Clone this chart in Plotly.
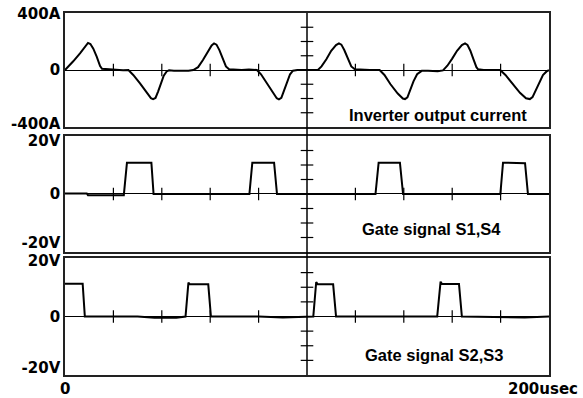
import plotly.graph_objects as go

# ---------------- data ----------------
# Inverter output current [A] vs time [usec]
cur_t = [0, 1.5, 3.4, 6.2, 8.3, 9.5, 10.5, 11.7, 13.1, 14.5, 15.3, 17, 19, 22, 24, 26.2,
         28.2, 31, 33.7, 35.5, 36.4, 37.4, 38.5, 39.6, 40.8, 42, 43, 45, 48, 51, 53,
         55, 57, 59, 60.6, 61.6, 62.6, 63.8, 65.2, 66.5, 67.8, 70, 73, 76, 78, 79.3,
         81, 83.5, 86, 87.5, 88.4, 89.4, 90.5, 91.7, 93, 94.2, 96, 100, 104.5,
         106, 108, 110, 112, 113.2, 114.2, 115.4, 116.8, 118.3, 119.8, 122, 126, 130,
         132, 134.5, 137.5, 139.6, 140.5, 141.5, 142.7, 144, 145.5, 147.4, 150, 154, 156.2,
         158, 160, 162, 164, 165.3, 166.3, 167.5, 168.8, 170, 170.7, 173, 176, 179.8,
         182, 185, 188, 190.5, 192.1, 193.2, 194.5, 196, 197.5, 199, 200]
cur_v = [0, 25, 61, 117, 168, 190, 182, 150, 94, 28, 8, 6, 0, 0, -2, 0,
         -35, -94, -160, -198, -204, -196, -150, -95, -40, -10, -2, -5, -6, -5, 0,
         20, 70, 130, 172, 187, 178, 140, 80, 25, 5, 2, 0, 3, 0, 0,
         -30, -95, -160, -198, -206, -195, -145, -85, -30, -5, 0, 0, 0,
         25, 75, 135, 175, 187, 178, 140, 80, 25, 5, 2, 0, 0,
         -35, -100, -165, -200, -204, -192, -140, -80, -30, -6, -6, -8, -3,
         30, 80, 135, 175, 187, 176, 135, 75, 20, 5, 0, 0, 0,
         -35, -100, -160, -198, -204, -190, -140, -80, -35, -10, 0]

# Gate signal S1,S4 [V]
g14_t = [0, 9, 9.5, 24.3, 25.6, 35.7, 36.6, 60, 76.2, 77.4, 86.4, 87.6, 100,
         128.3, 129.6, 138.4, 139.7, 160, 179.9, 181.0, 190.1, 191.3, 200]
g14_v = [0.2, 0.2, -0.4, -0.4, 10.8, 10.8, 0, 0, 0, 10.8, 10.8, 0, 0,
         0, 10.8, 10.8, 0, 0, 0, 10.8, 10.6, 0, 0]

# Gate signal S2,S3 [V]
g23_t = [0, 7.3, 8.2, 30, 37, 46, 49.8, 51.0, 51.6, 59.2, 60.3, 80, 90, 102.6, 103.8, 104.4,
         110.8, 112.0, 130, 153.8, 155.2, 155.8, 162.8, 164.0, 190, 200]
g23_v = [11.2, 11.2, 0, 0, -0.4, -0.4, 0, 11.6, 11.0, 11.0, 0, 0, -0.3, 0, 11.8, 11.0,
         11.0, 0, 0, 0, 11.9, 11.1, 11.1, 0, -0.3, 0]

x_ticks = [20, 40, 60, 80, 120, 140, 160, 180]
cur_ticks = [-300, -200, -100, 100, 200, 300]
volt_ticks = [-15, -10, -5, 5, 10, 15]

cur_labels = ["-400A", "0", "400A"]
volt_labels = ["-20V", "0", "20V"]
x_labels = ["0", "200usec"]

cur_range = [-400, 400]
volt_range = [-20, 20]
x_range = [0, 200]

# ---------------- figure ----------------
fig = go.Figure()

panels = [
    ("x", "y", cur_t, cur_v, cur_ticks),
    ("x2", "y2", g14_t, g14_v, volt_ticks),
    ("x3", "y3", g23_t, g23_v, volt_ticks),
]
for xa, ya, tt, vv, yt in panels:
    fig.add_trace(go.Scatter(x=tt, y=vv, mode="lines", xaxis=xa, yaxis=ya,
                             line=dict(color="black", width=2), hoverinfo="skip",
                             showlegend=False))
    # tick crosses on the zero line
    fig.add_trace(go.Scatter(x=x_ticks, y=[0] * len(x_ticks), mode="markers",
                             xaxis=xa, yaxis=ya, showlegend=False, hoverinfo="skip",
                             marker=dict(symbol="line-ns", size=9,
                                         line=dict(color="black", width=1.2))))
    # tick crosses on the centre line
    fig.add_trace(go.Scatter(x=[100] * len(yt), y=yt, mode="markers",
                             xaxis=xa, yaxis=ya, showlegend=False, hoverinfo="skip",
                             marker=dict(symbol="line-ew", size=9,
                                         line=dict(color="black", width=1.2))))

tick_font = dict(family="DejaVu Sans", size=15, color="black", weight="bold")
frame = dict(showline=True, mirror=True, linecolor="#222", linewidth=1.5,
             showgrid=False, fixedrange=True)
xcommon = dict(range=x_range, zeroline=False, ticks="", showticklabels=False, **frame)
ycommon = dict(zeroline=True, zerolinecolor="black", zerolinewidth=1, ticks="",
               tickfont=tick_font, **frame)

fig.update_layout(
    width=583, height=398,
    margin=dict(l=65, r=34, t=13, b=23, autoexpand=False),
    paper_bgcolor="white", plot_bgcolor="white",
    font=dict(family="Liberation Sans", size=16, color="black"),
    xaxis=dict(anchor="y", **xcommon),
    xaxis2=dict(anchor="y2", **xcommon),
    xaxis3=dict(anchor="y3", **xcommon),
    # edge labels sit slightly inside the frame, as in the original
    yaxis=dict(domain=[0.6851, 1.0], anchor="x", range=cur_range,
               tickvals=[-380, 0, 393], ticktext=cur_labels, **ycommon),
    yaxis2=dict(domain=[0.3398, 0.6602], anchor="x2", range=volt_range,
                tickvals=[-16.9, 0, 18.2], ticktext=volt_labels, **ycommon),
    yaxis3=dict(domain=[0.0, 0.3232], anchor="x3", range=volt_range,
                tickvals=[-17.6, 0, 19.0], ticktext=volt_labels, **ycommon),
)

# centre vertical line through all panels
fig.add_shape(type="line", xref="x", yref="paper", x0=100, x1=100, y0=0, y1=1,
              line=dict(color="black", width=1.5))

# time-axis labels
fig.add_annotation(x=x_range[0], y=0, xref="x3", yref="paper", yanchor="top", yshift=-3,
                   text=x_labels[0], showarrow=False, font=tick_font)
fig.add_annotation(x=x_range[1], y=0, xref="x3", yref="paper", yanchor="top", yshift=-3,
                   xanchor="right", xshift=31,
                   text=x_labels[1], showarrow=False, font=tick_font)

ann_font = dict(family="Liberation Sans", size=16.5, color="black", weight="bold")
fig.add_annotation(x=154, y=-315, xref="x", yref="y", text="Inverter output current",
                   showarrow=False, font=ann_font)
fig.add_annotation(x=151.4, y=-11.9, xref="x2", yref="y2", text="Gate signal S1,S4",
                   showarrow=False, font=ann_font)
fig.add_annotation(x=152.3, y=-13.1, xref="x3", yref="y3", text="Gate signal S2,S3",
                   showarrow=False, font=ann_font)

fig.write_html("out.html")
